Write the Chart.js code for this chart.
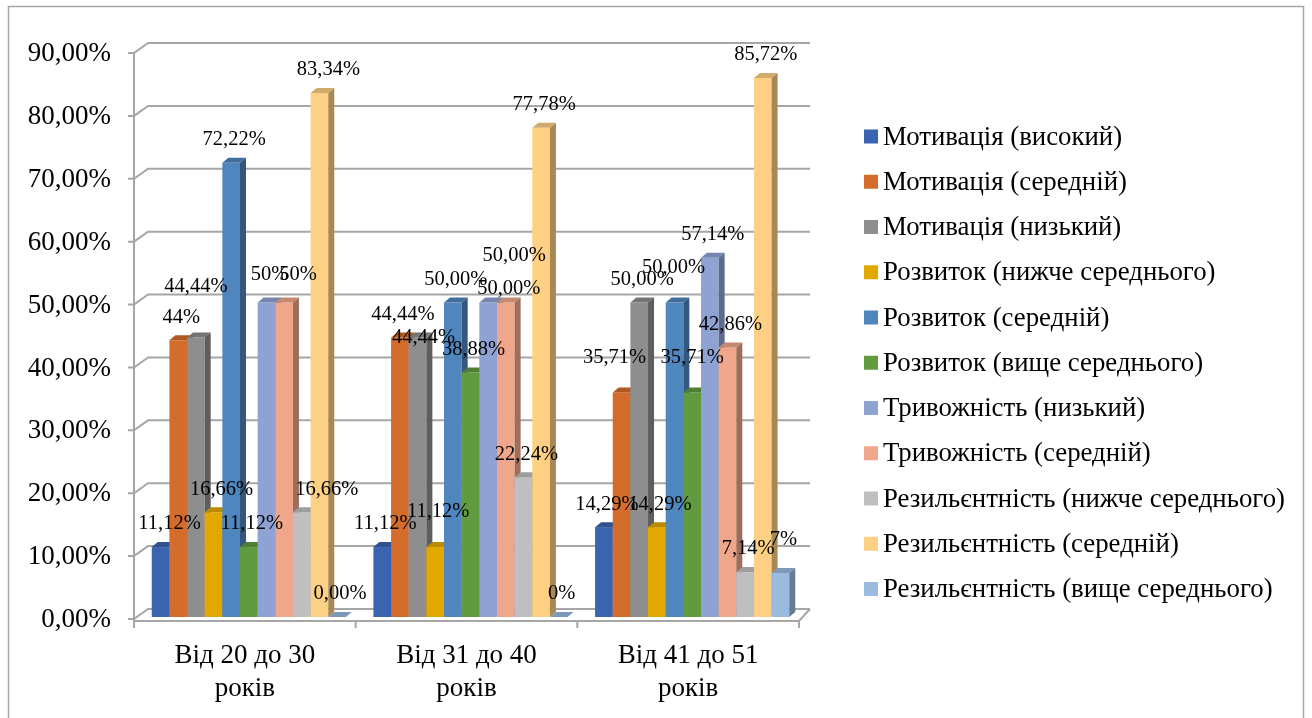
<!DOCTYPE html>
<html>
<head>
<meta charset="utf-8">
<script src="https://cdn.jsdelivr.net/npm/chart.js@4.4.1/dist/chart.umd.min.js"></script>
<style>
  html, body { margin: 0; padding: 0; background: #ffffff; }
  #wrap { width: 1312px; height: 718px; position: relative; }
</style>
</head>
<body>
<div id="wrap"><canvas id="c" width="1312" height="718"></canvas></div>
<script>
// Age groups (x categories)
const categories = [
  ['Від 20 до 30', 'років'],
  ['Від 31 до 40', 'років'],
  ['Від 41 до 51', 'років']
];

// Series names
const seriesNames = [
  'Мотивація (високий)',
  'Мотивація (середній)',
  'Мотивація (низький)',
  'Розвиток (нижче середнього)',
  'Розвиток (середній)',
  'Розвиток (вище середнього)',
  'Тривожність (низький)',
  'Тривожність (середній)',
  'Резильєнтність (нижче середнього)',
  'Резильєнтність (середній)',
  'Резильєнтність (вище середнього)'
];

// Values, % per age group
const motivationHigh   = [11.12, 11.12, 14.29];
const motivationMid    = [44,    44.44, 35.71];
const motivationLow    = [44.44, 44.44, 50.00];
const developmentBelow = [16.66, 11.12, 14.29];
const developmentMid   = [72.22, 50.00, 50.00];
const developmentAbove = [11.12, 38.88, 35.71];
const anxietyLow       = [50,    50.00, 57.14];
const anxietyMid       = [50,    50.00, 42.86];
const resilienceBelow  = [16.66, 22.24, 7.14];
const resilienceMid    = [83.34, 77.78, 85.72];
const resilienceAbove  = [0.00,  0,     7];

// Decimal places shown in each value label
const labelDecimals = [
  [2, 2, 2], [0, 2, 2], [2, 2, 2], [2, 2, 2], [2, 2, 2], [2, 2, 2],
  [0, 2, 2], [0, 2, 2], [2, 2, 2], [2, 2, 2], [2, 0, 0]
];

// Y axis ticks
const yTicks = [0, 10, 20, 30, 40, 50, 60, 70, 80, 90];

const seriesValues = [
  motivationHigh, motivationMid, motivationLow,
  developmentBelow, developmentMid, developmentAbove,
  anxietyLow, anxietyMid,
  resilienceBelow, resilienceMid, resilienceAbove
];

const seriesColors = [
  '#3A64B0', '#D46D2B', '#8E8E8E', '#E3A800', '#4F86BE', '#609B3F',
  '#8FA2D4', '#F0A68A', '#BFBFBF', '#FED083', '#9ABAE0'
];

const FONT = "'Liberation Serif', 'Times New Roman', serif";
const GRID = '#A6A6A6';

// hand-placed value labels (dx, dy) keyed "series-group"
const labelNudge = {
  '0-0': [6, 0], '2-0': [-3, -28], '3-0': [5, 0], '6-0': [0, -5], '7-0': [11, -5],
  '8-0': [22, 0], '9-0': [6, 0],
  '2-1': [3, 23], '3-1': [0, -12], '6-1': [23, -24], '7-1': [0, 9],
  '1-2': [-10, -12], '4-2': [-4, -12], '5-2': [-3, -12], '10-2': [0, -10]
};

function shade(hex, f) {
  const n = parseInt(hex.slice(1), 16);
  const r = Math.round(((n >> 16) & 255) * f);
  const g = Math.round(((n >> 8) & 255) * f);
  const b = Math.round((n & 255) * f);
  return `rgb(${r},${g},${b})`;
}

function fmt(v, d) {
  return v.toFixed(d).replace('.', ',') + '%';
}

const DEPTH_X = 6, DEPTH_Y = 5;

// 3D frame (back wall grid + floor), 3D bars, value labels, legend
const chart3d = {
  id: 'chart3d',
  beforeDraw(chart) {
    const ctx = chart.ctx;
    ctx.save();
    ctx.fillStyle = '#ffffff';
    ctx.fillRect(0, 0, chart.width, chart.height);
    ctx.strokeStyle = '#A6A6A6';
    ctx.lineWidth = 1.5;
    ctx.strokeRect(8.5, 6.5, 1295, 740);
    ctx.restore();
  },
  beforeDatasetsDraw(chart) {
    const ctx = chart.ctx;
    const y = chart.scales.y;
    const frontX = chart.chartArea.left - 4;
    const backX = frontX + 14;
    const rightX = chart.chartArea.right + 7;
    ctx.save();
    ctx.strokeStyle = GRID;
    ctx.lineWidth = 2;
    yTicks.forEach(v => {
      const py = y.getPixelForValue(v);
      ctx.beginPath();
      ctx.moveTo(frontX - 6, py + 2);
      ctx.lineTo(frontX, py + 2);
      ctx.lineTo(backX, py - 8);
      ctx.lineTo(rightX, py - 8);
      ctx.stroke();
    });
    // front vertical axis
    ctx.beginPath();
    ctx.moveTo(frontX, y.getPixelForValue(90) + 2);
    ctx.lineTo(frontX, y.getPixelForValue(0) + 4);
    ctx.stroke();
    // floor front edge and right edge
    const by = y.getPixelForValue(0);
    const catW = (chart.chartArea.right - chart.chartArea.left) / categories.length;
    const floorRight = frontX + catW * categories.length;
    ctx.beginPath();
    ctx.moveTo(frontX, by + 4);
    ctx.lineTo(floorRight, by + 4);
    ctx.lineTo(rightX, by - 8);
    ctx.stroke();
    // category ticks
    for (let i = 0; i <= categories.length; i++) {
      const tx = frontX + catW * i;
      ctx.beginPath();
      ctx.moveTo(tx, by + 4);
      ctx.lineTo(tx, by + 11);
      ctx.stroke();
    }
    ctx.restore();
  },
  beforeDatasetDraw() {
    return false;
  },
  afterDatasetsDraw(chart) {
    const ctx = chart.ctx;
    ctx.save();
    const n = chart.data.datasets.length;
    // bars in series order so the next front face hides the previous side face
    for (let g = 0; g < categories.length; g++) {
      for (let i = 0; i < n; i++) {
        const el = chart.getDatasetMeta(i).data[g];
        const p = el.getProps(['x', 'y', 'base', 'width'], true);
        const col = seriesColors[i];
        const l = p.x - p.width / 2, r = p.x + p.width / 2;
        const t = Math.min(p.y, p.base), b = Math.max(p.y, p.base);
        ctx.fillStyle = col;
        ctx.fillRect(l, t, r - l, b - t);
        // top face
        ctx.fillStyle = shade(col, 0.82);
        ctx.beginPath();
        ctx.moveTo(l, t);
        ctx.lineTo(l + DEPTH_X, t - DEPTH_Y);
        ctx.lineTo(r + DEPTH_X, t - DEPTH_Y);
        ctx.lineTo(r, t);
        ctx.closePath();
        ctx.fill();
        // side face
        ctx.fillStyle = shade(col, 0.66);
        ctx.beginPath();
        ctx.moveTo(r, t);
        ctx.lineTo(r + DEPTH_X, t - DEPTH_Y);
        ctx.lineTo(r + DEPTH_X, b - DEPTH_Y);
        ctx.lineTo(r, b);
        ctx.closePath();
        ctx.fill();
      }
    }
    // value labels
    ctx.fillStyle = '#000000';
    ctx.font = `20.5px ${FONT}`;
    ctx.textAlign = 'center';
    ctx.textBaseline = 'middle';
    for (let i = 0; i < n; i++) {
      const meta = chart.getDatasetMeta(i);
      meta.data.forEach((el, g) => {
        const p = el.getProps(['x', 'y'], true);
        const nd = labelNudge[`${i}-${g}`] || [0, 0];
        const txt = fmt(seriesValues[i][g], labelDecimals[i][g]);
        ctx.fillText(txt, p.x + 3 + nd[0], p.y - 23 + nd[1]);
      });
    }
    ctx.restore();
  },
  afterDraw(chart) {
    // legend
    const ctx = chart.ctx;
    ctx.save();
    ctx.font = `26.8px ${FONT}`;
    ctx.textAlign = 'left';
    ctx.textBaseline = 'middle';
    chart.data.datasets.forEach((ds, i) => {
      const cy = 136.5 + i * 45.25;
      ctx.fillStyle = seriesColors[i];
      ctx.fillRect(864, cy - 7, 14, 14);
      ctx.fillStyle = '#000000';
      ctx.fillText(ds.label, 883, cy + 1);
    });
    ctx.restore();
  }
};

new Chart(document.getElementById('c'), {
  type: 'bar',
  data: {
    labels: categories,
    datasets: seriesNames.map((name, i) => ({
      label: name,
      data: seriesValues[i],
      backgroundColor: seriesColors[i],
      borderWidth: 0,
      categoryPercentage: 0.876,
      barPercentage: 1.0
    }))
  },
  options: {
    responsive: false,
    animation: false,
    devicePixelRatio: 1,
    layout: { padding: { left: 0, right: 509, top: 51, bottom: 0 } },
    plugins: {
      legend: { display: false },
      tooltip: { enabled: false }
    },
    scales: {
      x: {
        grid: { display: false, drawTicks: false },
        border: { display: false },
        ticks: {
          font: { family: FONT, size: 27, lineHeight: 1.22 },
          color: '#000000',
          padding: 22,
          labelOffset: -4,
          maxRotation: 0,
          autoSkip: false
        },
        afterFit(scale) { scale.height = 101; }
      },
      y: {
        min: 0,
        max: 90,
        grid: { display: false, drawTicks: false },
        border: { display: false },
        afterBuildTicks(scale) { scale.ticks = yTicks.map(v => ({ value: v })); },
        ticks: {
          font: { family: FONT, size: 27 },
          color: '#000000',
          padding: 27,
          labelOffset: 3,
          callback: v => v.toFixed(2).replace('.', ',') + '%'
        },
        afterFit(scale) { scale.width = 138; }
      }
    }
  },
  plugins: [chart3d]
});
</script>
</body>
</html>
